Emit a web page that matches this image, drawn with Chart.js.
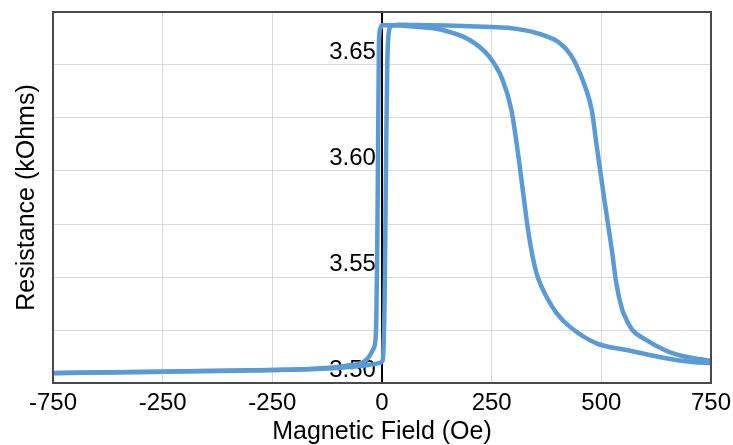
<!DOCTYPE html>
<html><head><meta charset="utf-8">
<script src="https://cdn.jsdelivr.net/npm/chart.js@4"></script>
<style>html,body{margin:0;padding:0;background:#fff;overflow:hidden;}</style>
</head><body>
<canvas id="c" width="733" height="445"></canvas>
<script>
// Tick definitions (labels as printed in the reference)
const xTickValues = [-750, -500, -250, 0, 250, 500, 750];
const xTickLabels = ['-750', '-250', '-250', '0', '250', '500', '750'];
const yLabelValues = [3.50, 3.55, 3.60, 3.65];

// Sweep from -750 Oe up to +750 Oe
const fieldUp = [-750, -650, -500, -400, -250, -150, -100, -50, -20, -5, 2, 4, 6, 8, 10, 12, 14, 17, 22, 40, 100, 150, 200, 250, 291, 330, 366, 405, 430, 445, 466, 478, 490, 507, 524, 534, 547, 557, 571, 602, 655, 708, 750];
const resUp   = [3.5047, 3.5050, 3.5053, 3.5057, 3.5061, 3.5066, 3.5071, 3.5080, 3.5088, 3.5095, 3.5110, 3.5200, 3.5400, 3.5800, 3.6200, 3.6500, 3.6620, 3.6670, 3.6685, 3.6690, 3.6688, 3.6686, 3.6683, 3.6679, 3.6675, 3.6662, 3.6642, 3.6604, 3.6548, 3.6490, 3.6380, 3.6288, 3.6110, 3.5863, 3.5627, 3.5472, 3.5350, 3.5300, 3.5250, 3.5203, 3.5146, 3.5118, 3.5105];

// Sweep from +750 Oe down to -750 Oe
const fieldDown = [750, 708, 632, 557, 489, 428, 398, 375, 364, 352, 343, 332, 320, 309, 295, 275, 245, 200, 138, 86, 40, 10, 0, -4, -7, -9, -11, -13, -15, -21, -31, -45, -70, -120, -250, -400, -500, -650, -750];
const resDown   = [3.5094, 3.5099, 3.5123, 3.5156, 3.5187, 3.5266, 3.5330, 3.5407, 3.5453, 3.5520, 3.5600, 3.5736, 3.5925, 3.6099, 3.6288, 3.6429, 3.6538, 3.6618, 3.6665, 3.6679, 3.6686, 3.6688, 3.6688, 3.6670, 3.6600, 3.6100, 3.5600, 3.5300, 3.5200, 3.5156, 3.5120, 3.5095, 3.5085, 3.5072, 3.5061, 3.5057, 3.5053, 3.5050, 3.5046];

// Field value at which the resistance tick labels sit (just left of the zero line)
const yLabelAnchor = -14;

const FONT = "'Liberation Sans', Arial, sans-serif";
const lineColor = '#5B9BD5';

const framePlugin = {
  id: 'frame',
  afterDraw(chart) {
    const {ctx, chartArea: a} = chart;
    ctx.save();
    ctx.strokeStyle = '#4a4a4a';
    ctx.lineWidth = 2;
    ctx.strokeRect(a.left, a.top, a.right - a.left, a.bottom - a.top);
    ctx.restore();
  }
};

const noPad = s => { s.paddingTop = 0; s.paddingBottom = 0; s.paddingLeft = 0; s.paddingRight = 0; };

new Chart(document.getElementById('c'), {
  type: 'scatter',
  data: {
    datasets: [
      { data: fieldUp.map((x, i) => ({x, y: resUp[i]})), showLine: true, borderColor: lineColor, borderWidth: 4.5, pointRadius: 0, cubicInterpolationMode: 'monotone', xAxisID: 'x', yAxisID: 'y' },
      { data: fieldDown.map((x, i) => ({x, y: resDown[i]})), showLine: true, borderColor: lineColor, borderWidth: 4.5, pointRadius: 0, cubicInterpolationMode: 'monotone', xAxisID: 'x', yAxisID: 'y' }
    ]
  },
  options: {
    responsive: false,
    animation: false,
    devicePixelRatio: 1,
    plugins: { legend: {display: false}, tooltip: {enabled: false} },
    layout: { padding: {top: 12, right: 22, left: 0, bottom: 0} },
    scales: {
      x: {
        type: 'linear', min: -750, max: 750, position: 'bottom',
        afterBuildTicks: s => { s.ticks = xTickValues.map(v => ({value: v})); },
        ticks: {
          callback: v => xTickLabels[xTickValues.indexOf(v)],
          font: {family: FONT, size: 24}, color: '#000', padding: 6,
          maxRotation: 0, autoSkip: false
        },
        grid: {color: '#d9d9d9', lineWidth: 1, drawTicks: false},
        border: {display: false},
        title: {display: true, text: 'Magnetic Field (Oe)', color: '#000', font: {family: FONT, size: 25, lineHeight: 1.0}, padding: 0},
        afterFit: s => { s.height = 62; noPad(s); }
      },
      y: {
        type: 'linear', min: 3.5, max: 3.675, position: 'left',
        ticks: {display: false, stepSize: 0.025},
        grid: {color: '#d9d9d9', lineWidth: 1, drawTicks: false},
        border: {display: false},
        title: {display: true, text: 'Resistance (kOhms)', color: '#000', font: {family: FONT, size: 25}, padding: {top: 12, bottom: 0}},
        afterFit: s => { s.width = 53; noPad(s); }
      },
      yZero: {
        type: 'linear', min: 3.5, max: 3.675, position: {x: 0}, z: 1,
        ticks: {display: false},
        grid: {display: false, drawTicks: false},
        border: {display: true, color: '#000', width: 2},
        afterFit: s => { s.width = 0; noPad(s); }
      },
      yl: {
        type: 'linear', min: 3.5, max: 3.675, position: {x: yLabelAnchor}, z: 1,
        afterBuildTicks: s => { s.ticks = yLabelValues.map(v => ({value: v})); },
        ticks: {callback: v => v.toFixed(2), font: {family: FONT, size: 24}, color: '#000', padding: 0, labelOffset: -13},
        grid: {display: false, drawTicks: false},
        border: {display: false},
        afterFit: s => { s.width = 0; noPad(s); }
      }
    }
  },
  plugins: [framePlugin]
});
</script>
</body></html>
